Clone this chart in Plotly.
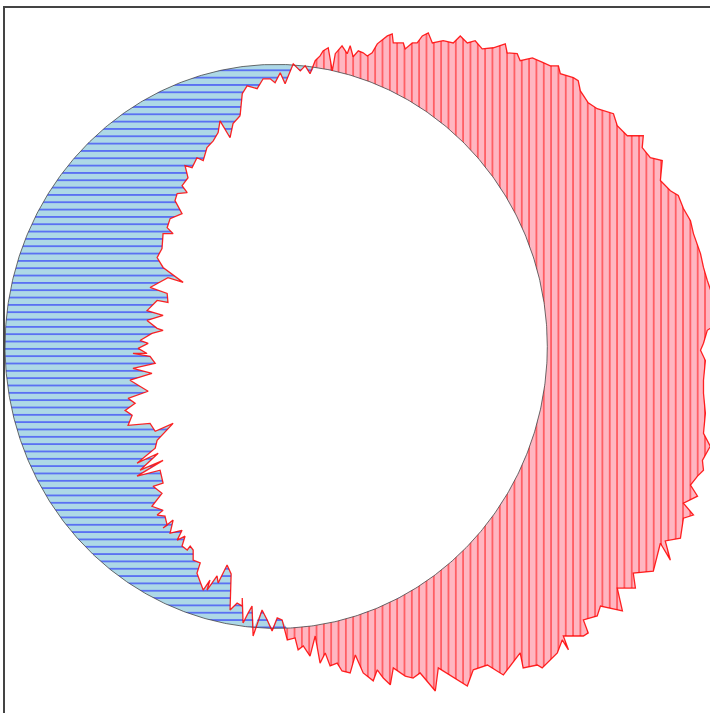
import numpy as np
import plotly.graph_objects as go

# Reference disc: unit circle at the origin
circle_cx, circle_cy, circle_r = 0.0, 0.0, 1.0

# Jagged outline, traced clockwise starting at the upper-left
noisy_x = [
    -0.133, -0.125, -0.107, -0.070, -0.048, -0.022, -0.004, 0.015, 0.033, 0.063,
    0.089, 0.107, 0.125, 0.144, 0.162, 0.173, 0.192, 0.207, 0.218, 0.243,
    0.262, 0.273, 0.284, 0.303, 0.321, 0.336, 0.354, 0.373, 0.410, 0.428,
    0.432, 0.469, 0.476, 0.502, 0.520, 0.539, 0.561, 0.576, 0.616, 0.653,
    0.679, 0.705, 0.734, 0.760, 0.801, 0.845, 0.852, 0.889, 0.900, 0.945,
    0.985, 1.011, 1.041, 1.048, 1.096, 1.114, 1.122, 1.151, 1.184, 1.244,
    1.258, 1.295, 1.354, 1.350, 1.380, 1.424, 1.417, 1.454, 1.483, 1.502,
    1.528, 1.539, 1.565, 1.576, 1.590, 1.609, 1.624, 1.616, 1.590, 1.576,
    1.565, 1.583, 1.576, 1.576, 1.583, 1.576, 1.601, 1.572, 1.576, 1.554,
    1.528, 1.554, 1.502, 1.539, 1.502, 1.491, 1.435, 1.454, 1.417, 1.391,
    1.317, 1.325, 1.258, 1.277, 1.196, 1.184, 1.133, 1.151, 1.133, 1.059,
    1.078, 1.055, 1.037, 0.981, 0.963, 0.911, 0.900, 0.838, 0.779, 0.727,
    0.705, 0.642, 0.598, 0.587, 0.531, 0.505, 0.476, 0.432, 0.421, 0.395,
    0.373, 0.358, 0.321, 0.292, 0.273, 0.243, 0.225, 0.199, 0.181, 0.162,
    0.144, 0.125, 0.100, 0.081, 0.070, 0.041, 0.022, 0.004, -0.015, -0.033,
    -0.052, -0.085, -0.089, -0.103, -0.122, -0.125, -0.125, -0.144, -0.170, -0.166,
    -0.181, -0.214, -0.218, -0.255, -0.244, -0.269, -0.292, -0.280, -0.306, -0.306,
    -0.317, -0.328, -0.347, -0.336, -0.365, -0.347, -0.391, -0.380, -0.417, -0.402,
    -0.410, -0.439, -0.417, -0.458, -0.421, -0.454, -0.417, -0.428, -0.513, -0.417,
    -0.502, -0.435, -0.513, -0.446, -0.439, -0.380, -0.446, -0.465, -0.546, -0.531,
    -0.557, -0.520, -0.546, -0.472, -0.539, -0.458, -0.528, -0.446, -0.465, -0.528,
    -0.476, -0.509, -0.472, -0.502, -0.458, -0.417, -0.439, -0.476, -0.417, -0.476,
    -0.439, -0.399, -0.402, -0.465, -0.399, -0.343, -0.417, -0.439, -0.421, -0.417,
    -0.380, -0.402, -0.391, -0.347, -0.373, -0.365, -0.328, -0.347, -0.325, -0.336,
    -0.310, -0.292, -0.269, -0.255, -0.232, -0.214, -0.207, -0.170, -0.159,
]
noisy_y = [
    0.818, 0.896, 0.924, 0.914, 0.949, 0.949, 0.935, 0.970, 0.931, 1.002,
    0.977, 0.995, 0.967, 1.013, 1.030, 1.048, 1.059, 0.977, 1.038, 1.066,
    1.038, 1.066, 1.027, 1.048, 1.041, 1.030, 1.041, 1.073, 1.101, 1.108,
    1.076, 1.076, 1.055, 1.076, 1.076, 1.101, 1.112, 1.076, 1.084, 1.076,
    1.101, 1.076, 1.084, 1.055, 1.059, 1.073, 1.041, 1.038, 1.013, 1.023,
    1.006, 0.995, 0.995, 0.967, 0.953, 0.942, 0.906, 0.864, 0.843, 0.825,
    0.783, 0.747, 0.747, 0.705, 0.669, 0.659, 0.588, 0.552, 0.535, 0.489,
    0.446, 0.400, 0.329, 0.280, 0.234, 0.181, 0.127, 0.074, 0.057, 0.011,
    -0.014, -0.050, -0.120, -0.166, -0.237, -0.308, -0.354, -0.404, -0.439, -0.460,
    -0.492, -0.531, -0.556, -0.598, -0.609, -0.680, -0.690, -0.758, -0.698, -0.797,
    -0.804, -0.857, -0.857, -0.938, -0.921, -0.956, -0.970, -1.016, -1.027, -1.027,
    -1.076, -1.041, -1.087, -1.140, -1.130, -1.140, -1.087, -1.165, -1.130, -1.147,
    -1.204, -1.165, -1.140, -1.222, -1.158, -1.176, -1.169, -1.140, -1.200, -1.176,
    -1.147, -1.186, -1.158, -1.094, -1.158, -1.151, -1.123, -1.133, -1.087, -1.123,
    -1.027, -1.098, -1.062, -1.076, -1.034, -1.041, -0.970, -0.963, -1.009, -0.970,
    -0.935, -1.027, -0.921, -0.945, -0.981, -0.892, -0.921, -0.910, -0.935, -0.807,
    -0.775, -0.839, -0.814, -0.864, -0.829, -0.864, -0.804, -0.768, -0.758, -0.722,
    -0.708, -0.722, -0.708, -0.673, -0.687, -0.652, -0.662, -0.616, -0.644, -0.634,
    -0.602, -0.598, -0.581, -0.567, -0.521, -0.496, -0.485, -0.439, -0.460, -0.404,
    -0.439, -0.379, -0.414, -0.361, -0.333, -0.273, -0.301, -0.273, -0.280, -0.244,
    -0.227, -0.202, -0.184, -0.159, -0.120, -0.096, -0.078, -0.060, -0.035, -0.025,
    -0.025, -0.007, 0.011, 0.021, 0.046, 0.057, 0.064, 0.092, 0.110, 0.127,
    0.163, 0.156, 0.188, 0.209, 0.244, 0.227, 0.280, 0.315, 0.347, 0.400,
    0.400, 0.421, 0.453, 0.471, 0.517, 0.542, 0.545, 0.570, 0.598, 0.641,
    0.634, 0.669, 0.659, 0.705, 0.729, 0.758, 0.800, 0.740, 0.790,
]

nx = np.array(noisy_x)
ny = np.array(noisy_y)

# Circle path (counter-clockwise)
theta = np.linspace(0, 2 * np.pi, 721)
cx = circle_cx + circle_r * np.cos(theta)
cy = circle_cy + circle_r * np.sin(theta)

# Jagged outline pulled radially onto the disc wherever it lies outside it
rad = np.hypot(nx - circle_cx, ny - circle_cy)
scale = np.minimum(1.0, circle_r / rad)
inner_x = circle_cx + (nx - circle_cx) * scale
inner_y = circle_cy + (ny - circle_cy) * scale

fig = go.Figure()

# Jagged region, vertical hatching
fig.add_trace(go.Scatter(
    x=noisy_x, y=noisy_y, mode="lines", fill="toself",
    fillcolor="lightpink", line=dict(width=0),
    fillpattern=dict(shape="|", fgcolor="red", bgcolor="lightpink",
                     size=7.33, solidity=0.24),
    hoverinfo="skip", showlegend=False,
))

# Disc interior left blank
fig.add_trace(go.Scatter(
    x=cx, y=cy, mode="lines", fill="toself", fillcolor="white",
    line=dict(width=0), hoverinfo="skip", showlegend=False,
))

# Part of the disc outside the jagged region, horizontal hatching
ring_x = list(cx) + [None] + list(inner_x)
ring_y = list(cy) + [None] + list(inner_y)
fig.add_trace(go.Scatter(
    x=ring_x, y=ring_y, mode="lines", fill="toself",
    fillcolor="lightblue", line=dict(width=0),
    fillpattern=dict(shape="-", fgcolor="blue", bgcolor="lightblue",
                     size=7.33, solidity=0.24),
    hoverinfo="skip", showlegend=False,
))

# Outlines
fig.add_trace(go.Scatter(
    x=cx, y=cy, mode="lines", line=dict(color="rgba(60,60,60,0.75)", width=1),
    hoverinfo="skip", showlegend=False,
))
fig.add_trace(go.Scatter(
    x=noisy_x + [noisy_x[0]], y=noisy_y + [noisy_y[0]], mode="lines",
    line=dict(color="rgba(255,0,0,0.85)", width=1.3),
    hoverinfo="skip", showlegend=False,
))

# Frame only on the left and top edges of the plotting area
axis_common = dict(showgrid=False, zeroline=False, showticklabels=False,
                   ticks="", showline=True, linecolor="#444", linewidth=2,
                   mirror=False)
fig.update_layout(
    width=710, height=713,
    margin=dict(l=5, r=0, t=8, b=0),
    paper_bgcolor="white", plot_bgcolor="white",
    xaxis=dict(range=[-1.0, 1.6], side="top", **axis_common),
    yaxis=dict(range=[-1.3, 1.2], side="left", **axis_common),
)

fig.write_html("out.html")
